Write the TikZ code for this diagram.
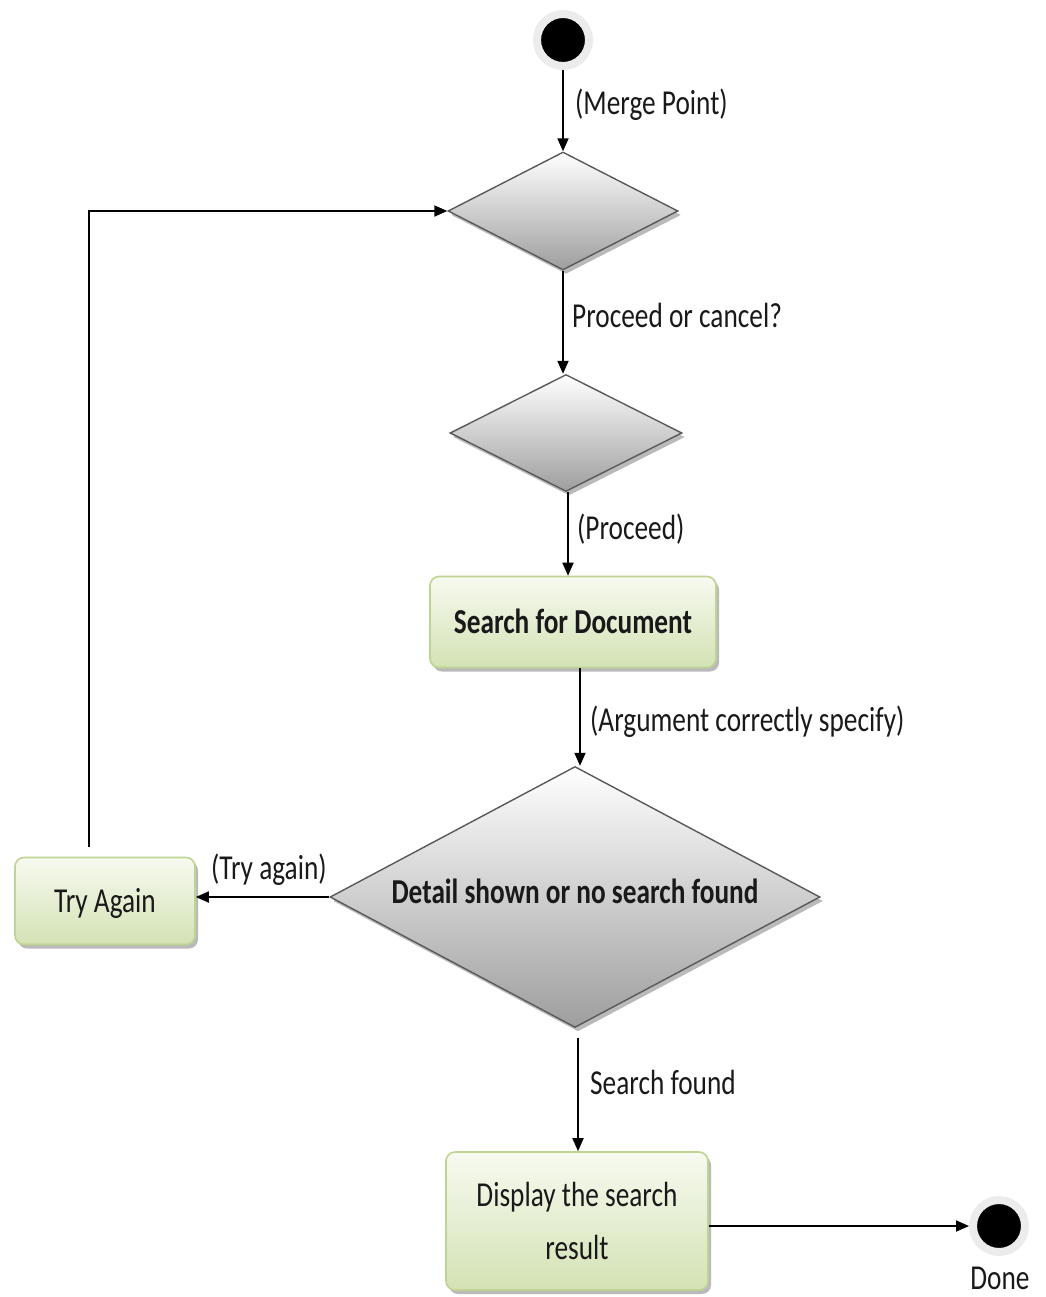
\documentclass[tikz,border=0pt]{standalone}
\usepackage{fontspec}
\setmainfont{Carlito}[FakeStretch=0.78]
\usetikzlibrary{shapes.geometric,arrows.meta,shadows}
\definecolor{boxtop}{HTML}{F7FAF0}
\definecolor{boxbot}{HTML}{D3E2B4}
\definecolor{boxline}{HTML}{BFD392}
\definecolor{ringgray}{HTML}{ECECEC}
\begin{document}
\begin{tikzpicture}[x=1pt,y=-1pt,
  txt/.style={font=\fontsize{35}{53}\selectfont, text=black!90},
  lbl/.style={txt, anchor=base west, inner sep=0pt},
  shadowed/.style={drop shadow={shadow xshift=3pt, shadow yshift=-4pt, fill=black!45, opacity=0.6}},
  decision/.style={diamond, shadowed, draw=black!65, line width=1.4pt,
    top color=white, bottom color=black!38, inner sep=0pt, aspect=1.9},
  activity/.style={rectangle, rounded corners=9pt, shadowed, draw=boxline, line width=1.6pt,
    top color=boxtop, bottom color=boxbot, txt, align=center},
  oneline/.style={text height=23pt, text depth=0pt},
  terminal/.style={circle, fill=black, draw=ringgray, line width=8pt, minimum size=52pt,
    inner sep=0pt, drop shadow={shadow xshift=2pt, shadow yshift=-3pt, fill=black!35, opacity=0.6}},
  arr/.style={-{Triangle[length=13pt,width=11pt]}, line width=1.8pt, black}]
\useasboundingbox (0,0) rectangle (1045,1297);

% nodes
\node[terminal] (start) at (563,40) {};
\node[decision, minimum width=230pt, minimum height=118pt] (merge) at (563,211) {};
\node[decision, minimum width=232pt, minimum height=117pt] (choice) at (566,433) {};
\node[activity, oneline, minimum width=286pt, minimum height=91pt] (search) at (573,622) {\bfseries Search for Document};
\node[decision, minimum width=490pt, minimum height=261pt, txt, text height=23pt, text depth=10pt] (detail) at (575,897) {\bfseries Detail shown or no search found};
\node[activity, oneline, minimum width=180pt, minimum height=87pt] (retry) at (105,901) {Try Again};
\node[activity, minimum width=262pt, minimum height=138pt] (display) at (577,1221) {Display the search\\result};
\node[terminal] (done) at (999,1226) {};

% connectors
\draw[arr] (start.south) -- (merge.north);
\draw[arr] (merge.south) -- (merge.south |- choice.north);
\draw[arr] ([xshift=2pt]choice.south) -- ([xshift=2pt]choice.south |- search.north);
\draw[arr] ([xshift=7pt]search.south) -- ([xshift=7pt]search.south |- detail.north);
\draw[arr] (detail.west) -- (detail.west -| retry.east);
\draw[arr] ([xshift=-16pt,yshift=10pt]retry.north) |- (merge.west);
\draw[arr] ([xshift=3pt,yshift=-10pt]detail.south) -- ([xshift=3pt]detail.south |- display.north);
\draw[arr] (display.east |- done.west) -- (done.west);

% labels
\node[lbl] (lmerge) at (575,115) {(Merge Point)};
\node[lbl] (lproceed) at (572,327) {Proceed or cancel?};
\node[lbl] (lgo) at (577,539) {(Proceed)};
\node[lbl] (larg) at (590,731) {(Argument correctly specify)};
\node[lbl] (ltry) at (211,879) {(Try again)};
\node[lbl] (lfound) at (590,1094) {Search found};
\node[txt, inner sep=0pt, anchor=base] (ldone) at (1000,1289) {Done};
\end{tikzpicture}
\end{document}
